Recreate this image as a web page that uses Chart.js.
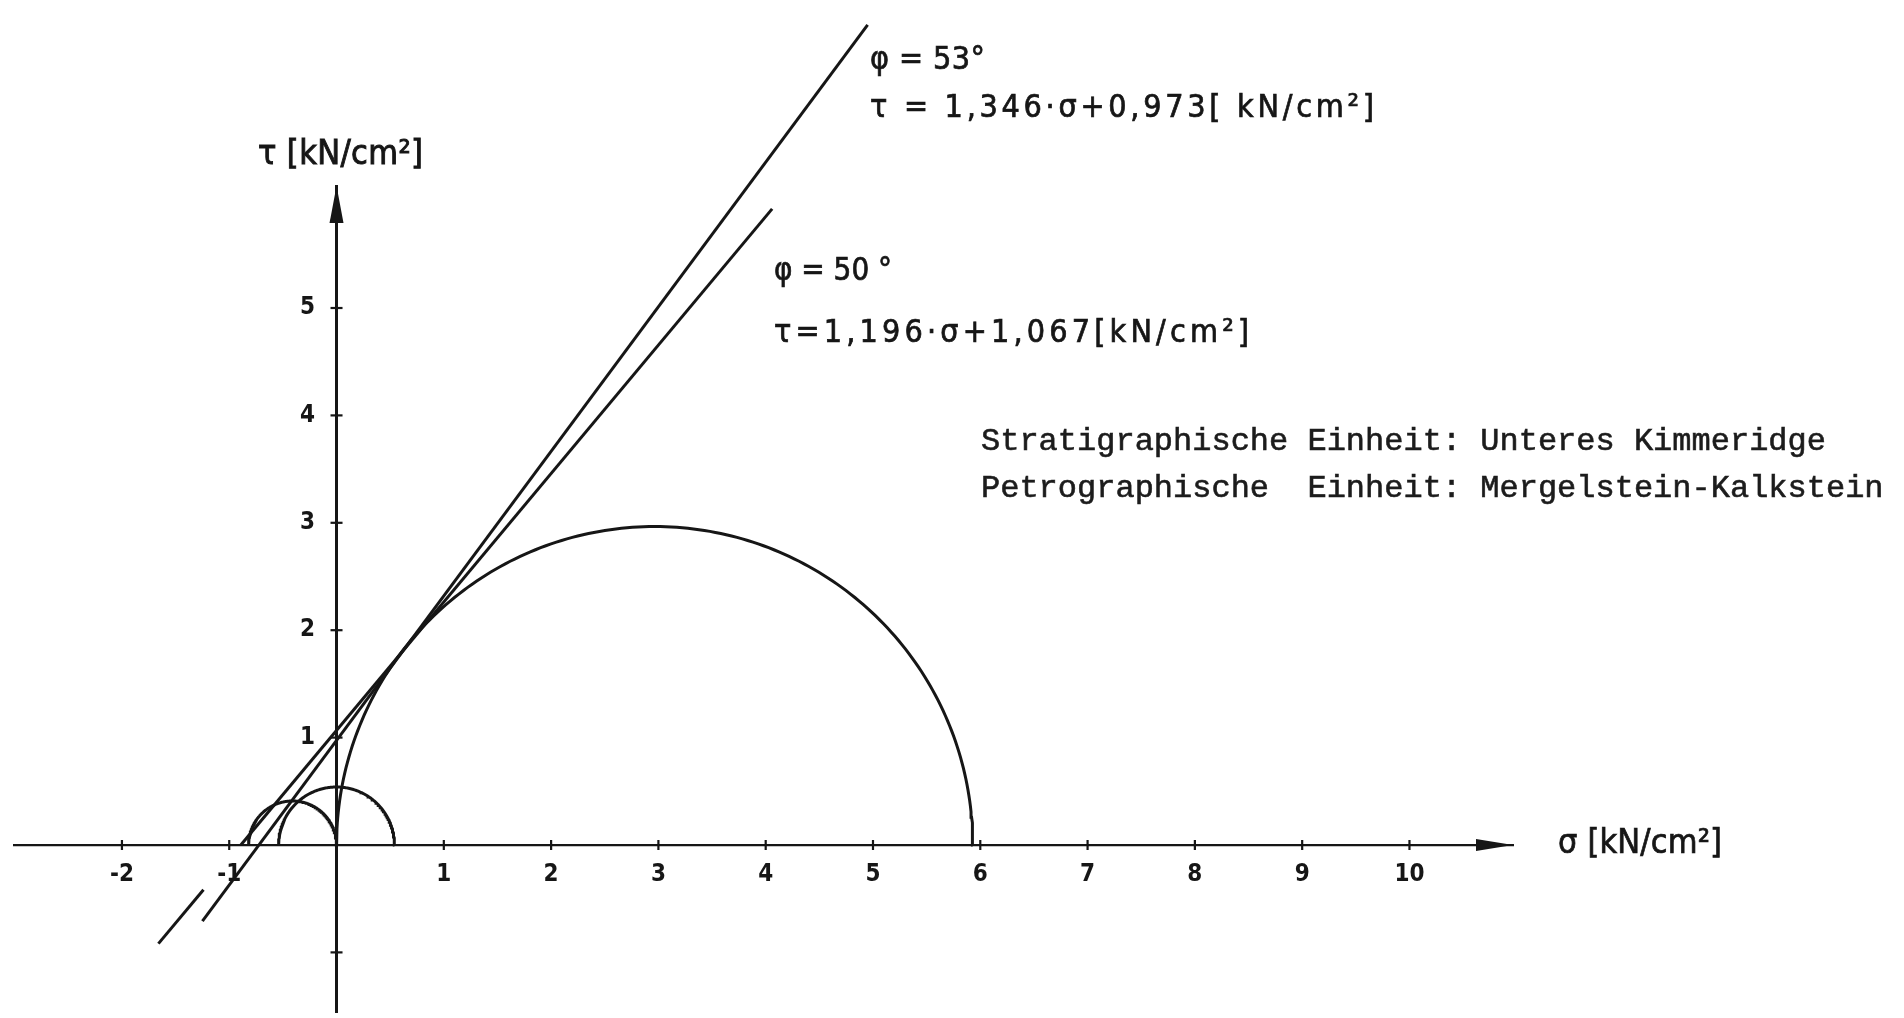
<!DOCTYPE html>
<html>
<head>
<meta charset="utf-8">
<script src="https://cdn.jsdelivr.net/npm/chart.js@4.4.1/dist/chart.umd.min.js"></script>
<style>
  html, body { margin: 0; padding: 0; background: #fff; overflow: hidden; }
  #wrap { width: 1904px; height: 1018px; position: relative; }
</style>
</head>
<body>
<div id="wrap"><canvas id="mohr"></canvas></div>
<script>
// Mohr circles of the tests: minor / major principal stress [kN/cm²]
const sigma3 = [-0.82, -0.54, 0.0];
const sigma1 = [0.0, 0.54, 5.93];

// Failure envelopes τ = tanφ · σ + c  [kN/cm²]
const envelopeSlope = [1.346, 1.196];
const envelopeIntercept = [0.973, 1.067];
// σ spans over which each envelope is drawn (the 50° line is broken below the σ axis)
const envelopeSpans = [
  [[-1.25, 4.95]],
  [[-0.892, 4.06], [-1.66, -1.24]]
];

// Axis ticks
const xTicks = [-2, -1, 1, 2, 3, 4, 5, 6, 7, 8, 9, 10];
const yTicks = [-1, 1, 2, 3, 4, 5];
const yTickLabels = ['', '1', '2', '3', '4', '5'];

// Axis ranges
const xRange = [-3.006, 10.965];
const yRange = [-1.555, 6.136];

// Texts
const envelopeLabels = [
  ['φ = 53°', 'τ = 1,346·σ+0,973[ kN/cm²]'],
  ['φ = 50 °', 'τ=1,196·σ+1,067[kN/cm²]']
];
const axisTitles = ['σ [kN/cm²]', 'τ [kN/cm²]'];
const unitLines = [
  'Stratigraphische Einheit: Unteres Kimmeridge',
  'Petrographische  Einheit: Mergelstein-Kalkstein'
];

const INK = '#161616';
const COND = '"DejaVu Sans Condensed", "Liberation Sans Narrow", "DejaVu Sans", sans-serif';

function semicircle(s3, s1) {
  const c = (s1 + s3) / 2, r = (s1 - s3) / 2, pts = [];
  for (let a = 0; a <= 180; a += 1) {
    const t = a * Math.PI / 180;
    pts.push({ x: c + r * Math.cos(t), y: r * Math.sin(t) });
  }
  return pts;
}

const datasets = [];
sigma3.forEach((s3, i) => {
  datasets.push({ data: semicircle(s3, sigma1[i]) });
});
envelopeSlope.forEach((m, i) => {
  const c = envelopeIntercept[i];
  envelopeSpans[i].forEach(([a, b]) => {
    datasets.push({ data: [{ x: a, y: m * a + c }, { x: b, y: m * b + c }] });
  });
});
datasets.forEach(d => Object.assign(d, {
  showLine: true, borderColor: INK, borderWidth: 3, pointRadius: 0,
  pointHoverRadius: 0, fill: false, tension: 0, clip: false
}));

// draw a string stretched (letter spacing) or squeezed to a given width
function fitText(ctx, str, x, base, font, width, bold) {
  ctx.save();
  ctx.font = font;
  ctx.letterSpacing = '0px';
  const w0 = ctx.measureText(str).width;
  const n = [...str].length;
  ctx.lineWidth = bold || 0;
  ctx.strokeStyle = ctx.fillStyle;
  if (w0 < width && n > 1) {
    ctx.letterSpacing = ((width - w0) / (n - 1)).toFixed(2) + 'px';
  } else {
    ctx.translate(x, base);
    ctx.scale(width / w0, 1);
    x = 0; base = 0;
  }
  ctx.fillText(str, x, base);
  if (bold) ctx.strokeText(str, x, base);
  ctx.restore();
}

const paper = {
  id: 'paper',
  beforeDraw(chart) {
    const { ctx, width, height } = chart;
    ctx.save();
    ctx.fillStyle = '#fff';
    ctx.fillRect(0, 0, width, height);
    ctx.restore();
  }
};

const axisMarks = {
  id: 'axisMarks',
  afterDraw(chart) {
    const { ctx, chartArea } = chart;
    const xs = chart.scales.x, ys = chart.scales.y;
    const x0 = xs.getPixelForValue(0), y0 = ys.getPixelForValue(0);
    ctx.save();
    ctx.strokeStyle = INK;
    ctx.fillStyle = INK;
    ctx.lineWidth = 2.2;
    xs.ticks.forEach(t => {
      const px = xs.getPixelForValue(t.value);
      ctx.beginPath(); ctx.moveTo(px, y0 - 5); ctx.lineTo(px, y0 + 5); ctx.stroke();
    });
    ys.ticks.forEach(t => {
      const py = ys.getPixelForValue(t.value);
      ctx.beginPath(); ctx.moveTo(x0 - 6, py); ctx.lineTo(x0 + 6, py); ctx.stroke();
    });
    // arrow heads
    const xr = chartArea.right;
    ctx.beginPath();
    ctx.moveTo(xr, y0); ctx.lineTo(xr - 37, y0 - 6); ctx.lineTo(xr - 37, y0 + 6);
    ctx.closePath(); ctx.fill();
    const yt = chartArea.top;
    ctx.beginPath();
    ctx.moveTo(x0, yt); ctx.lineTo(x0 - 7, yt + 37); ctx.lineTo(x0 + 7, yt + 37);
    ctx.closePath(); ctx.fill();
    ctx.restore();
  }
};

const annotations = {
  id: 'annotations',
  afterDraw(chart) {
    const { ctx } = chart;
    ctx.save();
    ctx.fillStyle = INK;
    ctx.textBaseline = 'alphabetic';
    ctx.textAlign = 'left';
    const f32 = '32px ' + COND;
    fitText(ctx, envelopeLabels[0][0], 870, 69, f32, 115, 0.7);
    fitText(ctx, envelopeLabels[0][1], 870, 117, f32, 504, 0.7);
    fitText(ctx, envelopeLabels[1][0], 774, 280, f32, 118, 0.7);
    fitText(ctx, envelopeLabels[1][1], 774, 342, f32, 475, 0.7);
    const f34 = '34px ' + COND;
    fitText(ctx, axisTitles[0], 1558, 853, f34, 164, 0.7);
    fitText(ctx, axisTitles[1], 258, 164, f34, 165, 0.9);
    ctx.font = '32px "Liberation Mono", "DejaVu Sans Mono", monospace';
    ctx.fillStyle = '#1c1c1c';
    ctx.strokeStyle = '#1c1c1c';
    ctx.lineWidth = 0.6;
    unitLines.forEach((s, i) => {
      ctx.fillText(s, 981, 450 + 47 * i);
      ctx.strokeText(s, 981, 450 + 47 * i);
    });
    ctx.restore();
  }
};

new Chart(document.getElementById('mohr'), {
  type: 'scatter',
  data: { datasets },
  options: {
    responsive: true,
    maintainAspectRatio: false,
    animation: false,
    events: [],
    layout: { padding: { left: 14, right: 391, top: 186, bottom: 6 } },
    plugins: { legend: { display: false }, tooltip: { enabled: false } },
    scales: {
      x: {
        type: 'linear', min: xRange[0], max: xRange[1],
        position: { y: 0 },
        afterBuildTicks: s => { s.ticks = xTicks.map(v => ({ value: v })); },
        ticks: { font: { family: COND, size: 24, weight: 'bold' }, color: INK,
                 padding: 7, autoSkip: false, maxRotation: 0,
                 callback: v => String(v) },
        grid: { display: false },
        border: { display: true, color: INK, width: 2.2 }
      },
      y: {
        type: 'linear', min: yRange[0], max: yRange[1],
        position: { x: 0 },
        afterBuildTicks: s => { s.ticks = yTicks.map(v => ({ value: v })); },
        ticks: { font: { family: COND, size: 24, weight: 'bold', lineHeight: 0.4 },
                 color: INK, padding: 0, autoSkip: false,
                 callback: (v, i) => yTickLabels[i] + '\u2002\u2002' },
        grid: { display: false },
        border: { display: true, color: INK, width: 3 }
      }
    }
  },
  plugins: [paper, axisMarks, annotations]
});
</script>
</body>
</html>
